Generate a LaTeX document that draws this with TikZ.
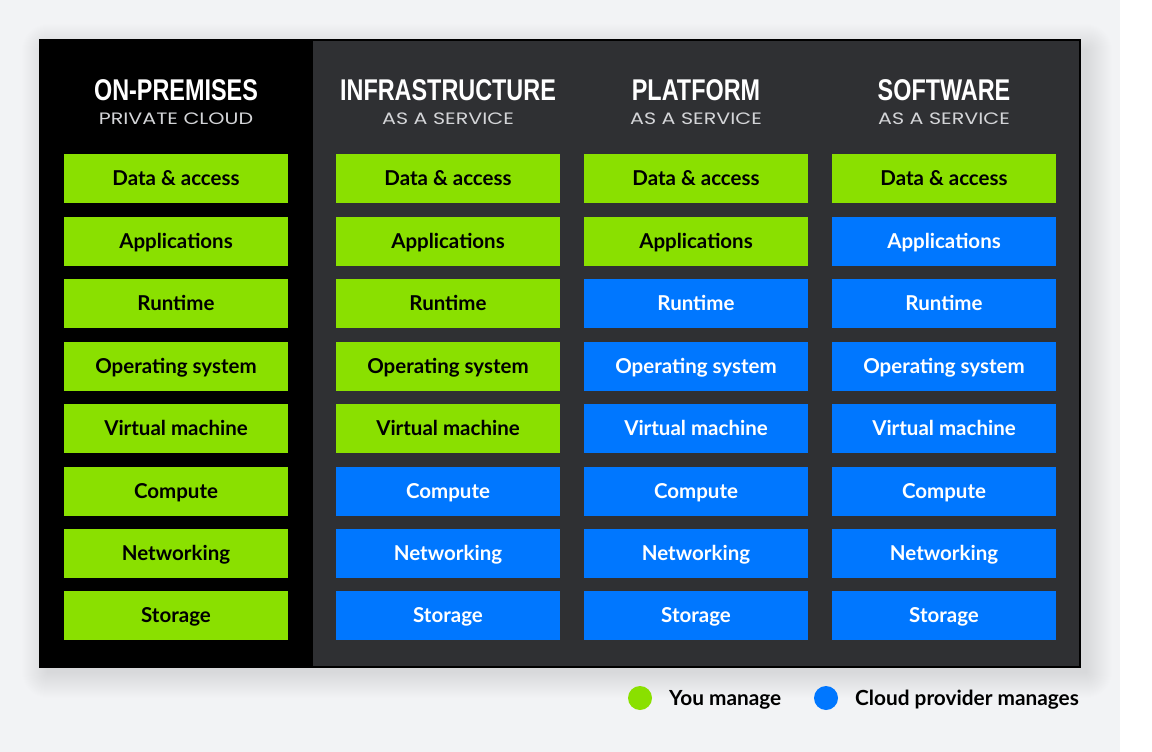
\documentclass[tikz,border=0pt]{standalone}
\usepackage{fontspec}
\setmainfont{Lato}
\newfontfamily\titlefont[FakeStretch=0.78]{Liberation Sans Bold}
\newfontfamily\subfont[FakeStretch=1.25]{Poppins}
\newfontfamily\boxfont{Lato Bold}
\definecolor{bggray}{HTML}{F2F3F5}
\definecolor{panelgray}{HTML}{2F3033}
\definecolor{mgreen}{HTML}{8AE000}
\definecolor{mblue}{HTML}{0077FF}
\definecolor{subgray}{HTML}{D4D5D8}
\tikzset{
  cell/.style={minimum width=224pt, minimum height=49pt, inner sep=0pt, text height=14pt, text depth=0pt, font=\boxfont\fontsize{20.5}{20.5}\selectfont},
  you/.style={cell, fill=mgreen, text=black},
  prov/.style={cell, fill=mblue, text=white},
  ttl/.style={text=white, inner sep=0pt, text height=21.5pt, text depth=0pt, font=\titlefont\fontsize{30}{30}\selectfont},
  subt/.style={text=subgray, inner sep=0pt, text height=11.5pt, text depth=0pt, font=\subfont\fontsize{16.5}{16.5}\selectfont},
  legtxt/.style={text=black, inner sep=0pt, anchor=west, text height=14pt, text depth=0pt, font=\boxfont\fontsize{20.8}{20.8}\selectfont},
  dot/.style={circle, minimum size=24pt, inner sep=0pt}
}
\begin{document}
\begin{tikzpicture}[x=1pt,y=-1pt]
\useasboundingbox (0,0) rectangle (1152,752);
\fill[white] (0,0) rectangle (1152,752);
\fill[bggray] (0,0) rectangle (1120,752);
% soft shadow
\foreach \i in {1,...,26}{
  \fill[black, opacity=0.0045, rounded corners=\i pt] (48-\i,50-\i) rectangle (1086+\i,672+\i);
}
% panel
\fill[panelgray] (40,40) rectangle (1080,667);
\fill[black] (40,40) rectangle (313,667);
\draw[black, line width=1.5pt] (40,40) rectangle (1080,667);
% headers
\node[ttl] (t1) at (176,89.5) {ON-PREMISES};
\node[subt] (s1) at (176,118.5) {PRIVATE CLOUD};
\node[ttl] (t2) at (448,89.5) {INFRASTRUCTURE};
\node[subt] (s2) at (448,118.5) {AS A SERVICE};
\node[ttl] (t3) at (696,89.5) {PLATFORM};
\node[subt] (s3) at (696,118.5) {AS A SERVICE};
\node[ttl] (t4) at (944,89.5) {SOFTWARE};
\node[subt] (s4) at (944,118.5) {AS A SERVICE};
% rows
\def\ya{178.5}\def\yb{241}\def\yc{303.5}\def\yd{366}\def\ye{428.5}\def\yf{491}\def\yg{553}\def\yh{615.5}
% column 1
\node[you] (a1) at (176,\ya) {Data \& access};
\node[you] (a2) at (176,\yb) {Applications};
\node[you] (a3) at (176,\yc) {Runtime};
\node[you] (a4) at (176,\yd) {Operating system};
\node[you] (a5) at (176,\ye) {Virtual machine};
\node[you] (a6) at (176,\yf) {Compute};
\node[you] (a7) at (176,\yg) {Networking};
\node[you] (a8) at (176,\yh) {Storage};
% column 2
\node[you] (b1) at (448,\ya) {Data \& access};
\node[you] (b2) at (448,\yb) {Applications};
\node[you] (b3) at (448,\yc) {Runtime};
\node[you] (b4) at (448,\yd) {Operating system};
\node[you] (b5) at (448,\ye) {Virtual machine};
\node[prov] (b6) at (448,\yf) {Compute};
\node[prov] (b7) at (448,\yg) {Networking};
\node[prov] (b8) at (448,\yh) {Storage};
% column 3
\node[you] (c1) at (696,\ya) {Data \& access};
\node[you] (c2) at (696,\yb) {Applications};
\node[prov] (c3) at (696,\yc) {Runtime};
\node[prov] (c4) at (696,\yd) {Operating system};
\node[prov] (c5) at (696,\ye) {Virtual machine};
\node[prov] (c6) at (696,\yf) {Compute};
\node[prov] (c7) at (696,\yg) {Networking};
\node[prov] (c8) at (696,\yh) {Storage};
% column 4
\node[you] (d1) at (944,\ya) {Data \& access};
\node[prov] (d2) at (944,\yb) {Applications};
\node[prov] (d3) at (944,\yc) {Runtime};
\node[prov] (d4) at (944,\yd) {Operating system};
\node[prov] (d5) at (944,\ye) {Virtual machine};
\node[prov] (d6) at (944,\yf) {Compute};
\node[prov] (d7) at (944,\yg) {Networking};
\node[prov] (d8) at (944,\yh) {Storage};
% legend
\node[dot, fill=mgreen] (lg) at (640,698) {};
\node[legtxt] (lgt) at (669,698) {You manage};
\node[dot, fill=mblue] (lb) at (826,698) {};
\node[legtxt] (lbt) at (855,698) {Cloud provider manages};
\end{tikzpicture}
\end{document}
